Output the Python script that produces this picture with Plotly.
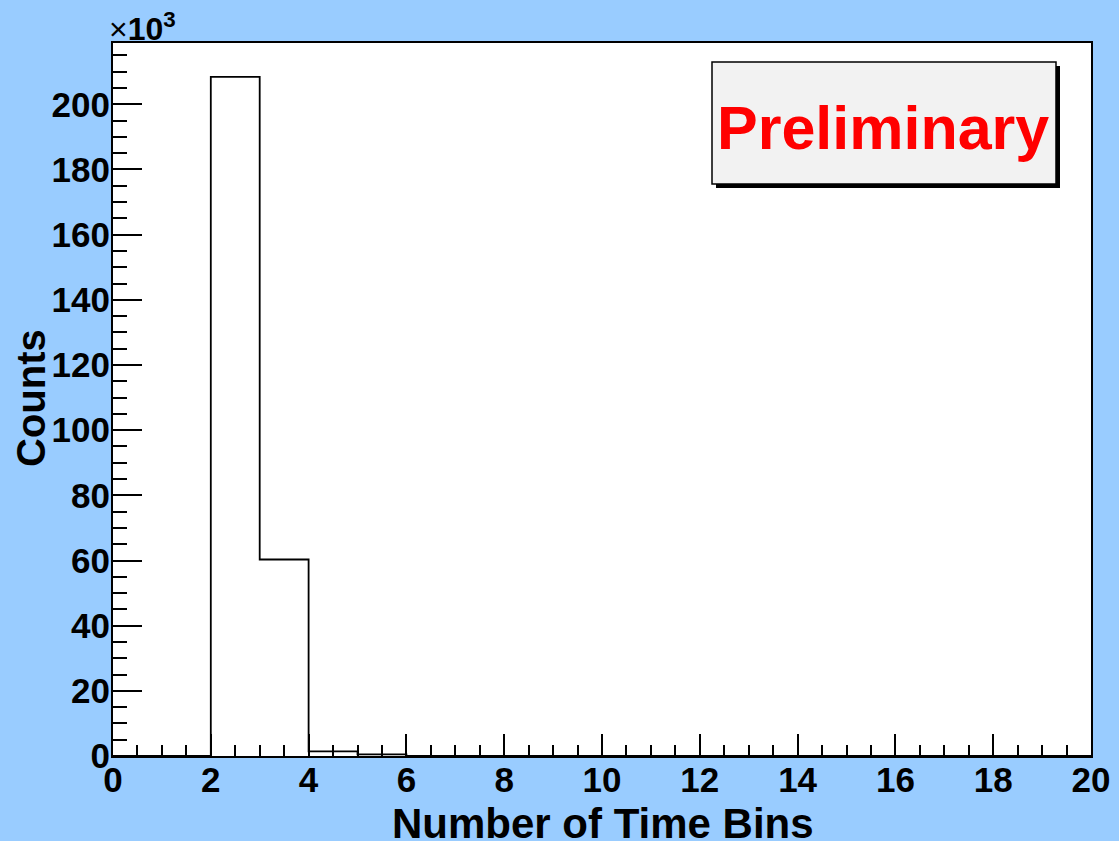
import plotly.graph_objects as go

# Histogram: 20 bins of width 1 from 0 to 20
bin_edges = list(range(0, 21))
counts = [0, 0, 208400, 60300, 1400, 500, 0, 0, 0, 0,
          0, 0, 0, 0, 0, 0, 0, 0, 0, 0]
x_tick_vals = [0, 2, 4, 6, 8, 10, 12, 14, 16, 18, 20]
y_tick_vals = [0, 20, 40, 60, 80, 100, 120, 140, 160, 180, 200]

x_title = "Number of Time Bins"
y_title = "Counts"
stamp_text = "Preliminary"

scale = 1000.0
y_vals = [c / scale for c in counts] + [counts[-1] / scale]

W, H = 1119, 841
L, R, T, B = 113, 28, 43, 85
pw, ph = W - L - R, H - T - B

def px(xp):
    return (xp - L) / pw

def py(yp):
    return (H - B - yp) / ph

FONT = "Liberation Sans, Arial, Helvetica, sans-serif"

fig = go.Figure()
fig.add_trace(go.Scatter(
    x=bin_edges, y=y_vals, mode="lines", line_shape="hv",
    line=dict(color="black", width=1.8), hoverinfo="skip", showlegend=False,
))

ymax = max(counts) / scale * 1.05

fig.update_layout(
    width=W, height=H,
    margin=dict(l=L, r=R, t=T, b=B),
    paper_bgcolor="#99ccff",
    plot_bgcolor="white",
    showlegend=False,
    xaxis=dict(
        range=[0, 20], tickvals=x_tick_vals, ticktext=[str(v) for v in x_tick_vals],
        ticks="inside", ticklen=22, tickwidth=1.8, tickcolor="black",
        minor=dict(ticks="inside", ticklen=11, dtick=0.5, tickwidth=1.8, tickcolor="black", showgrid=False),
        showgrid=False, zeroline=False,
        showline=True, linecolor="black", linewidth=2, mirror=True,
        tickfont=dict(family=FONT, size=35, color="black", weight="bold"),
        ticklabelstandoff=-8,
        automargin=False,
    ),
    yaxis=dict(
        range=[0, ymax], tickvals=y_tick_vals, ticktext=[str(v) for v in y_tick_vals],
        ticks="inside", ticklen=29, tickwidth=1.8, tickcolor="black",
        minor=dict(ticks="inside", ticklen=14, dtick=5, tickwidth=1.8, tickcolor="black", showgrid=False),
        showgrid=False, zeroline=False,
        showline=True, linecolor="black", linewidth=2, mirror=True,
        tickfont=dict(family=FONT, size=35, color="black", weight="bold"),
        ticklabelstandoff=-6,
        automargin=False,
    ),
)

# axis titles placed as in the reference
fig.add_annotation(
    xref="paper", yref="paper", x=px(603), y=py(823), xanchor="center", yanchor="middle",
    text=x_title, showarrow=False,
    font=dict(family=FONT, size=42, color="black", weight="bold"),
)
fig.add_annotation(
    xref="paper", yref="paper", x=px(31), y=py(398), xanchor="center", yanchor="middle",
    text=y_title, showarrow=False, textangle=-90,
    font=dict(family=FONT, size=40, color="black", weight="bold"),
)

# x10^3 exponent label
fig.add_annotation(
    xref="paper", yref="paper", x=px(107), y=py(49), xanchor="left", yanchor="bottom",
    text="<span style='font-weight:normal'>×</span>10<sup>3</sup>", showarrow=False,
    font=dict(family=FONT, size=32, color="black", weight="bold"),
)

# "Preliminary" stamp box with shadow
fig.add_shape(type="rect", xref="paper", yref="paper",
              x0=px(716), x1=px(1060), y0=py(188), y1=py(66),
              fillcolor="black", line=dict(width=0), layer="above")
fig.add_shape(type="rect", xref="paper", yref="paper",
              x0=px(712), x1=px(1056), y0=py(184), y1=py(62),
              fillcolor="#f2f2f2", line=dict(color="black", width=1.5), layer="above")
fig.add_annotation(
    xref="paper", yref="paper", x=px(883), y=py(128), xanchor="center", yanchor="middle",
    text=stamp_text, showarrow=False,
    font=dict(family=FONT, size=61, color="#ff0000", weight="bold"),
)

fig.write_html("out.html", config={"displayModeBar": False},
               post_script="document.body.style.margin='0';document.body.style.overflow='hidden';")
